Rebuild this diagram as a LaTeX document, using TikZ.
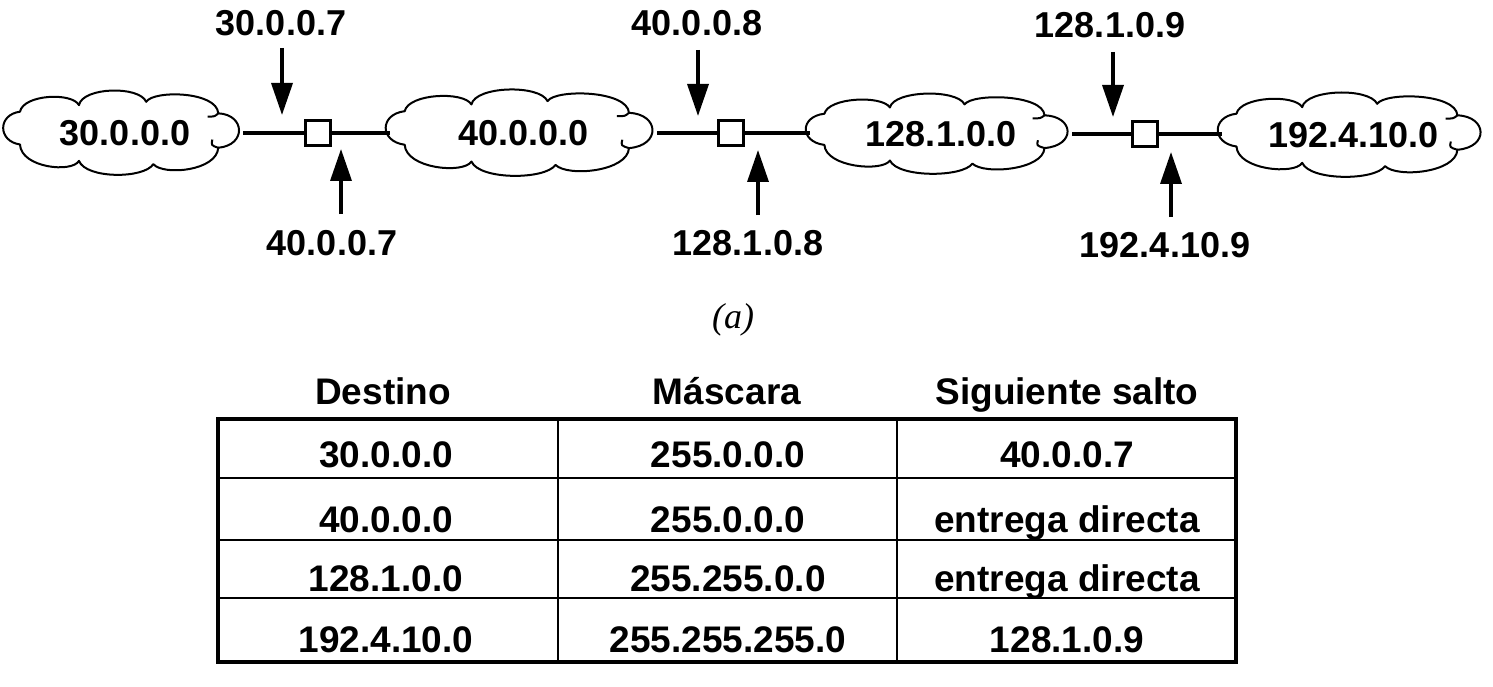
\documentclass[tikz,border=0pt]{standalone}
\usepackage{fontspec}
\setmainfont{Liberation Sans}
\newfontfamily\capserif{Liberation Serif}
\usetikzlibrary{arrows.meta}
\newcommand\netcloud[6]{%
  \begin{scope}[shift={(#2,#3)}, xscale=#4, yscale=#5]
    \draw[cloudline] (-0.89,-0.52)
      .. controls (-0.86,-0.94) and (-0.45,-1.0) .. (-0.39,-0.68)
      .. controls (-0.36,-1.12) and (0.12,-1.16) .. (0.18,-0.76)
      .. controls (0.24,-1.05) and (0.78,-1.02) .. (0.79,-0.48)
      .. controls (1.02,-0.45) and (1.03,0.30) .. (0.79,0.36)
      .. controls (0.78,0.92) and (0.33,1.05) .. (0.24,0.76)
      .. controls (0.16,1.12) and (-0.33,1.12) .. (-0.39,0.68)
      .. controls (-0.45,0.98) and (-0.88,0.85) .. (-0.89,0.28)
      .. controls (-1.08,0.20) and (-1.08,-0.45) .. cycle;
    \draw[cloudline] (0.79,-0.48) .. controls (0.76,-0.40) .. (0.70,-0.40);
    \draw[cloudline] (0.79,0.36) .. controls (0.73,0.30) .. (0.74,0.16);
  \end{scope}
  \node[lbl, minimum width=2*#4pt, minimum height=2*#5pt] (#1) at (#2,#3) {#6};
}
\begin{document}
\begin{tikzpicture}[x=1pt,y=-1pt,
  lbl/.style={font=\fontsize{36}{40}\selectfont\bfseries, inner sep=0pt, text height=26pt, text depth=0pt},
  tbl/.style={font=\fontsize{37}{40}\selectfont\bfseries, inner sep=0pt, text height=26.5pt, text depth=0pt},
  cloudline/.style={line width=2pt, line join=round},
  router/.style={draw, line width=3.2pt, minimum size=25pt, inner sep=0pt, fill=white},
  link/.style={line width=3.5pt},
  ptr/.style={line width=3.5pt, -{Triangle[length=32pt,width=21pt]}},
  grid/.style={line width=2.8pt},
  frame/.style={line width=3.8pt}]
\useasboundingbox (0,0) rectangle (1493,687);

% networks
\netcloud{c1}{125}{133}{118}{41}{30.0.0.0}
\netcloud{c2}{523.5}{133}{133.5}{42}{40.0.0.0}
\netcloud{c3}{941}{134}{131}{39}{128.1.0.0}
\netcloud{c4}{1353.5}{135}{131.5}{41}{192.4.10.0}

% routers
\node[router] (r1) at (318,133) {};
\node[router] (r2) at (731,133) {};
\node[router] (r3) at (1145,134) {};

\draw[link] (r1.west -| c1.east) -- (r1.west);
\draw[link] (r1.east) -- (r1.east -| c2.west);
\draw[link] (r2.west -| c2.east) -- (r2.west);
\draw[link] (r2.east) -- (r2.east -| c3.west);
\draw[link] (r3.west -| c3.east) -- (r3.west);
\draw[link] (r3.east) -- (r3.east -| c4.west);

% address labels
\node[lbl] (l1) at (281,23) {30.0.0.7};
\node[lbl] (l2) at (697,23) {40.0.0.8};
\node[lbl] (l3) at (1110,25) {128.1.0.9};
\node[lbl] (l4) at (332,242) {40.0.0.7};
\node[lbl] (l5) at (748,242) {128.1.0.8};
\node[lbl] (l6) at (1165,244) {192.4.10.9};

% arrows
\coordinate (d1s) at (282,48);  \coordinate (d1e) at (282,115);
\coordinate (d2s) at (698,50);  \coordinate (d2e) at (698,116);
\coordinate (d3s) at (1113,52); \coordinate (d3e) at (1113,117);
\coordinate (u1s) at (341,214); \coordinate (u1e) at (341,149);
\coordinate (u2s) at (758,215); \coordinate (u2e) at (758,150);
\coordinate (u3s) at (1171,217); \coordinate (u3e) at (1171,152);
\draw[ptr] (d1s) -- (d1e);
\draw[ptr] (d2s) -- (d2e);
\draw[ptr] (d3s) -- (d3e);
\draw[ptr] (u1s) -- (u1e);
\draw[ptr] (u2s) -- (u2e);
\draw[ptr] (u3s) -- (u3e);

% caption
\node[font=\capserif\itshape\fontsize{36}{40}\selectfont, inner sep=0pt] (cap) at (733,320) {(a)};

% table
\draw[grid] (558,419) -- (558,662);
\draw[grid] (897,419) -- (897,662);
\draw[grid] (218,478) -- (1236,478);
\draw[grid] (218,540) -- (1236,540);
\draw[grid] (218,598) -- (1236,598);
\draw[frame] (218,419) rectangle (1236,662);

\node[tbl] (h1) at (383,391) {Destino};
\node[tbl] (h2) at (727,391) {Máscara};
\node[tbl] (h3) at (1067,391) {Siguiente salto};

\node[tbl] (a1) at (386,454) {30.0.0.0};
\node[tbl] (b1) at (728,454) {255.0.0.0};
\node[tbl] (c1t) at (1067,454) {40.0.0.7};
\node[tbl] (a2) at (386,519) {40.0.0.0};
\node[tbl] (b2) at (728,519) {255.0.0.0};
\node[tbl] (c2t) at (1067,519) {entrega directa};
\node[tbl] (a3) at (386,578) {128.1.0.0};
\node[tbl] (b3) at (728,578) {255.255.0.0};
\node[tbl] (c3t) at (1067,578) {entrega directa};
\node[tbl] (a4) at (386,639) {192.4.10.0};
\node[tbl] (b4) at (728,639) {255.255.255.0};
\node[tbl] (c4t) at (1067,639) {128.1.0.9};
\end{tikzpicture}
\end{document}
